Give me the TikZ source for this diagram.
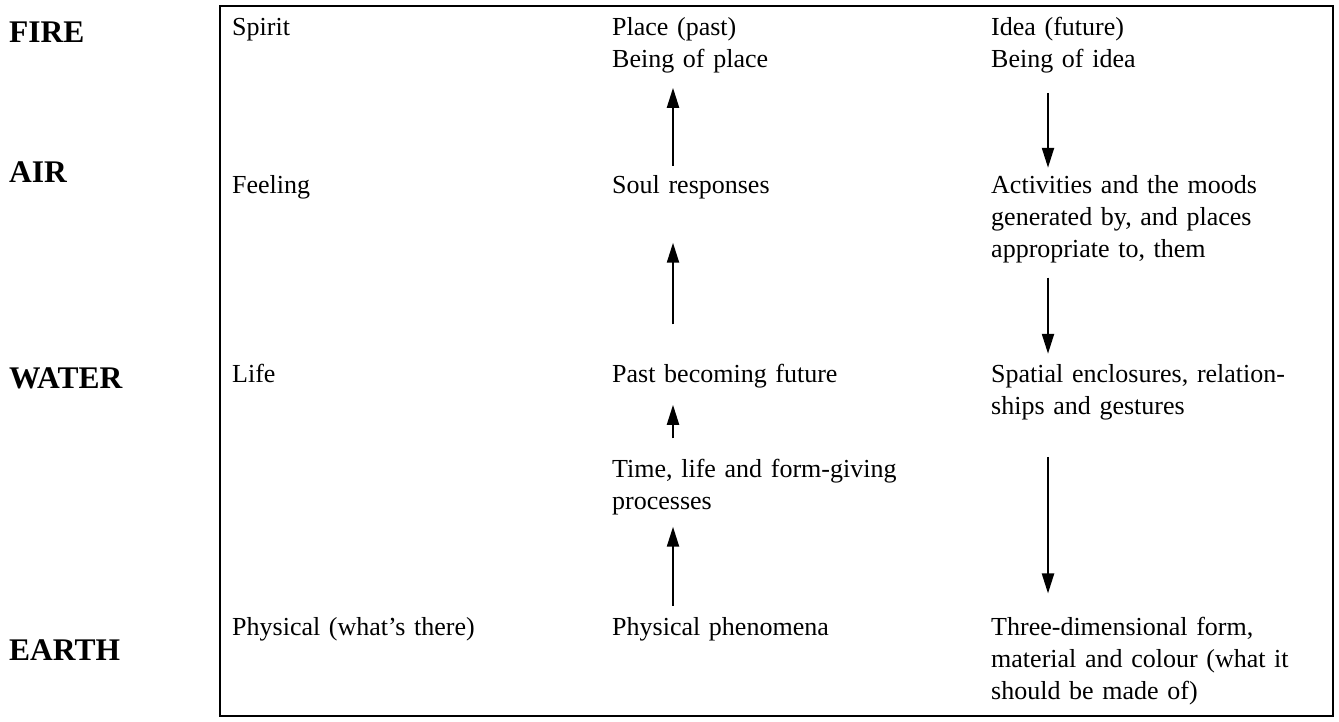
\documentclass[tikz,border=0pt]{standalone}
\usepackage{fontspec}
\setmainfont{Liberation Serif}
\usetikzlibrary{arrows.meta}
\tikzset{
  txt/.style={font=\fontsize{26}{32}\selectfont, inner sep=0pt, anchor=base west, text width=340pt, align=left},
  elem/.style={font=\fontsize{31.5}{36}\selectfont\bfseries, inner sep=0pt, anchor=base west},
  arr/.style={line width=2.2pt, -{Triangle[length=20pt,width=12pt]}},
  frame/.style={line width=2.5pt}
}
\begin{document}
\begin{tikzpicture}[x=1pt,y=-1pt]
\useasboundingbox (0,0) rectangle (1339,722);
\draw[frame] (220,6) rectangle (1333,716);

% element labels
\node[elem] (fire)  at (9,43)  {FIRE};
\node[elem] (air)   at (9,183) {AIR};
\node[elem] (water) at (9,388) {WATER};
\node[elem] (earth) at (9,660) {EARTH};

% column 1
\node[txt] (spirit)  at (232,36)  {Spirit};
\node[txt] (feeling) at (232,194) {Feeling};
\node[txt] (life)    at (232,382) {Life};
\node[txt] (phys)    at (232,635) {Physical (what’s there)};

% column 2
\node[txt] (place) at (612,36)  {Place (past)\\Being of place};
\node[txt] (soul)  at (612,194) {Soul responses};
\node[txt] (past)  at (612,382) {Past becoming future};
\node[txt] (time)  at (612,477) {Time, life and form-giving\\processes};
\node[txt] (phen)  at (612,635) {Physical phenomena};

% column 3
\node[txt] (idea)  at (991,36)  {Idea (future)\\Being of idea};
\node[txt] (act)   at (991,194) {Activities and the moods\\generated by, and places\\appropriate to, them};
\node[txt] (spat)  at (991,382) {Spatial enclosures, relation-\\ships and gestures};
\node[txt] (three) at (991,635) {Three-dimensional form,\\material and colour (what it\\should be made of)};

\coordinate (cx2) at (673,0);
\coordinate (cx3) at (1048,0);

% column 2 arrows (upwards)
\draw[arr, shorten <=10pt, shorten >=14pt] (soul.north -| cx2) -- (place.south -| cx2);
\draw[arr, shorten <=39pt, shorten >=43pt] (past.north -| cx2) -- (soul.south -| cx2);
\draw[arr, shorten <=20pt, shorten >=17pt] (time.north -| cx2) -- (past.south -| cx2);
\draw[arr, shorten <=11pt, shorten >=12pt] (phen.north -| cx2) -- (time.south -| cx2);

% column 3 arrows (downwards)
\draw[arr, shorten <=19pt, shorten >=8pt]  (idea.south -| cx3) -- (act.north -| cx3);
\draw[arr, shorten <=14pt, shorten >=10pt] (act.south -| cx3) -- (spat.north -| cx3);
\draw[arr, shorten <=37pt, shorten >=23pt] (spat.south -| cx3) -- (three.north -| cx3);
\end{tikzpicture}
\end{document}
